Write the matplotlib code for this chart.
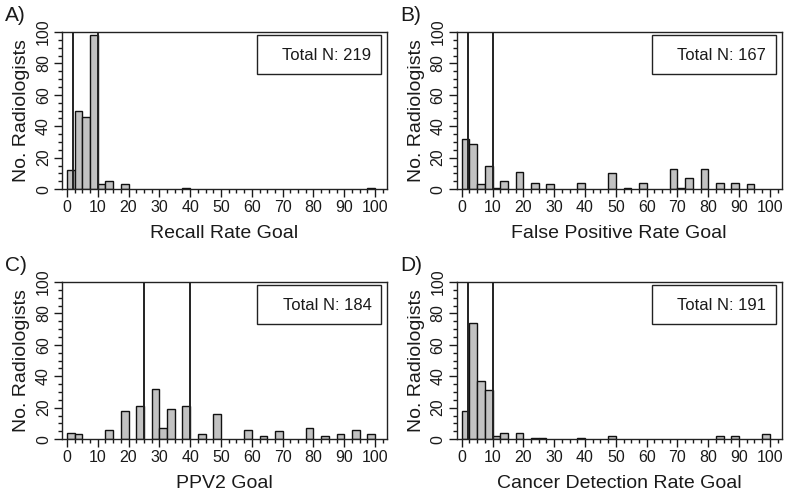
import matplotlib
matplotlib.use('Agg')
import matplotlib.pyplot as plt
from matplotlib.ticker import MultipleLocator
from matplotlib.patches import Rectangle

plt.rcParams['font.family'] = ['Liberation Sans', 'DejaVu Sans']

# bin left edges (bin width 2.5) and counts
recall_bins = [0, 2.5, 5, 7.5, 10, 12.5, 17.5, 37.5, 97.5]
recall_counts = [12, 50, 46, 98, 3, 5, 3, 1, 1]
recall_lines = [2, 10]

fpr_bins = [0, 2.5, 5, 7.5, 10, 12.5, 17.5, 22.5, 27.5, 37.5, 47.5, 52.5,
            57.5, 67.5, 70, 72.5, 77.5, 82.5, 87.5, 92.5]
fpr_counts = [32, 29, 3, 15, 1, 5, 11, 4, 3, 4, 10, 1, 4, 13, 1, 7, 13, 4, 4, 3]
fpr_lines = [2, 10]

ppv_bins = [0, 2.5, 12.5, 17.5, 22.5, 27.5, 30, 32.5, 37.5, 42.5, 47.5, 57.5,
            62.5, 67.5, 77.5, 82.5, 87.5, 92.5, 97.5]
ppv_counts = [4, 3, 6, 18, 21, 32, 7, 19, 21, 3, 16, 6, 2, 5, 7, 2, 3, 6, 3]
ppv_lines = [25, 40]

cdr_bins = [0, 2.5, 5, 7.5, 10, 12.5, 17.5, 22.5, 25, 37.5, 47.5, 82.5, 87.5, 97.5]
cdr_counts = [18, 74, 37, 31, 2, 4, 4, 1, 1, 1, 2, 2, 2, 3]
cdr_lines = [2, 10]

panels = [
    ('A)', 'Recall Rate Goal', 'Total N: 219', recall_bins, recall_counts, recall_lines),
    ('B)', 'False Positive Rate Goal', 'Total N: 167', fpr_bins, fpr_counts, fpr_lines),
    ('C)', 'PPV2 Goal', 'Total N: 184', ppv_bins, ppv_counts, ppv_lines),
    ('D)', 'Cancer Detection Rate Goal', 'Total N: 191', cdr_bins, cdr_counts, cdr_lines),
]

# axes rectangles in figure fraction
rects = [
    [0.0775, 0.621, 0.406, 0.315],
    [0.571, 0.621, 0.406, 0.315],
    [0.0775, 0.120, 0.406, 0.315],
    [0.571, 0.120, 0.406, 0.315],
]

fig = plt.figure(figsize=(8, 4.99), dpi=100)
txt = '#1a1a1a'

for (lab, xlab, ntxt, bins, counts, lines), r in zip(panels, rects):
    ax = fig.add_axes(r)
    ax.bar(bins, counts, width=2.5, align='edge', color='#c2c2c2',
           edgecolor='#111111', linewidth=1.0, zorder=2)
    for v in lines:
        ax.axvline(v, color='#222222', linewidth=1.4, zorder=3)
    ax.set_xlim(-1.6, 103.8)
    ax.set_ylim(0, 100)
    ax.xaxis.set_major_locator(MultipleLocator(10))
    ax.xaxis.set_minor_locator(MultipleLocator(2.5))
    ax.yaxis.set_major_locator(MultipleLocator(20))
    ax.yaxis.set_minor_locator(MultipleLocator(5))
    ax.tick_params(which='major', direction='out', length=6, width=1,
                   labelsize=11.5, pad=2, colors=txt)
    ax.tick_params(which='minor', direction='out', length=3, width=1, colors=txt)
    for t in ax.get_yticklabels():
        t.set_rotation(90)
        t.set_va('center')
    for s in ax.spines.values():
        s.set_linewidth(1.0)
        s.set_color('#222222')
    ax.set_xlabel(xlab, fontsize=14, color=txt, labelpad=7)
    ax.set_ylabel('No. Radiologists', fontsize=14, color=txt, labelpad=4)
    ax.add_patch(Rectangle((0.6, 0.732), 0.382, 0.249, transform=ax.transAxes,
                           facecolor='white', edgecolor='#222222',
                           linewidth=1.0, zorder=5))
    ax.text(0.953, 0.853, ntxt, transform=ax.transAxes, ha='right', va='center',
            fontsize=12, color=txt, zorder=6)
    fig.text(r[0] - 0.071, r[1] + r[3] + 0.032, lab, fontsize=15, color=txt,
             ha='left', va='center')

fig.savefig('out.png', dpi=100)
